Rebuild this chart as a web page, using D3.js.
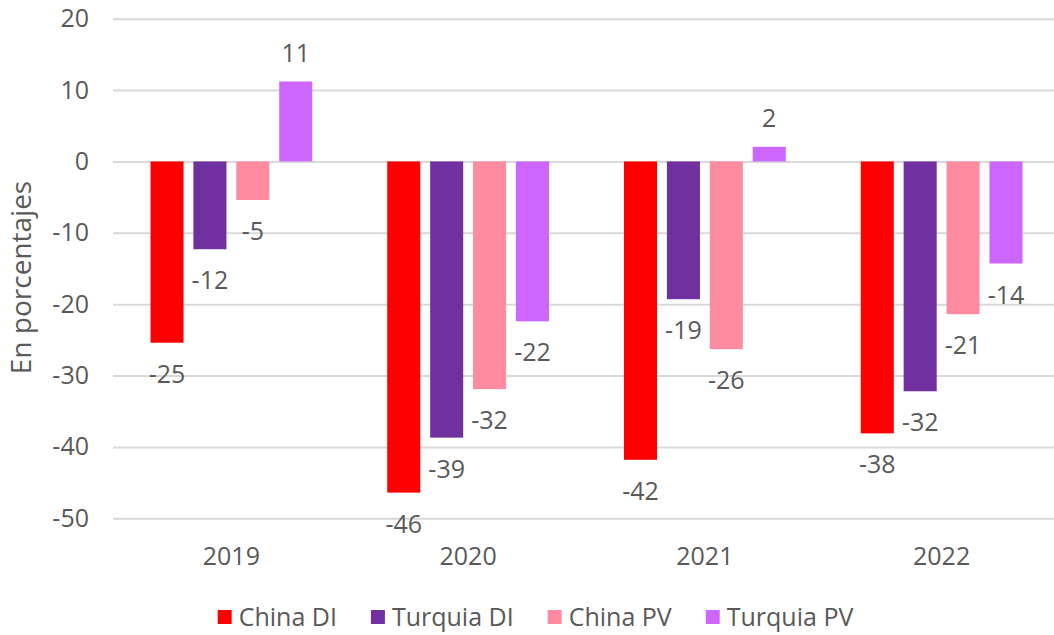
<!DOCTYPE html>
<html>
<head>
<meta charset="utf-8">
<script src="https://cdn.jsdelivr.net/npm/d3@7"></script>
<style>
  body { margin: 0; background: #fff; }
  svg { display: block; font-family: "Open Sans", sans-serif; }
</style>
</head>
<body>
<svg width="1054" height="635"></svg>
<script>
// data
const years = ["2019", "2020", "2021", "2022"];
const seriesNames = ["China DI", "Turquia DI", "China PV", "Turquia PV"];
const chinaDI = [-25.4, -46.4, -41.8, -38.1];
const turquiaDI = [-12.3, -38.7, -19.3, -32.2];
const chinaPV = [-5.4, -31.9, -26.3, -21.4];
const turquiaPV = [11.2, -22.4, 2.05, -14.3];
const yTicks = [20, 10, 0, -10, -20, -30, -40, -50];
const colors = ["#ff0000", "#7030a0", "#ff8ba0", "#cc66ff"];

const allSeries = [chinaDI, turquiaDI, chinaPV, turquiaPV];
let rows = [];
years.forEach(function(yr, i) {
  seriesNames.forEach(function(s, j) {
    rows.push({year: yr, series: s, value: allSeries[j][i]});
  });
});

let svg = d3.select("svg"),
    width = +svg.attr("width"),
    height = +svg.attr("height");
let plotLeft = 113, plotRight = 1060, plotTop = 18.7, plotBottom = 518.3;
let textColor = "#595959";

let y = d3.scaleLinear().domain([-50, 20]).range([plotBottom, plotTop]);
let x0 = d3.scaleBand().domain(years).range([plotLeft, plotRight]);
let x1 = d3.scaleBand().domain(seriesNames)
    .range([37.5, x0.bandwidth() - 37.5])
    .paddingInner(0.23);
let color = d3.scaleOrdinal().domain(seriesNames).range(colors);

// y axis + gridlines
let yAxis = svg.append("g")
    .attr("transform", "translate(" + plotLeft + ",0)")
    .call(d3.axisLeft(y).tickValues(yTicks)
        .tickFormat(function(d) { return String(d); })
        .tickSize(-(width - plotLeft)).tickPadding(24));
yAxis.select(".domain").remove();
yAxis.selectAll("line").attr("stroke", "#d9d9d9").attr("stroke-width", 2);
yAxis.selectAll("text").attr("fill", textColor).attr("font-size", 25)
    .attr("font-family", "Open Sans");

// x axis labels
let xAxis = svg.append("g")
    .attr("transform", "translate(0," + plotBottom + ")")
    .call(d3.axisBottom(x0).tickSize(0).tickPadding(29));
xAxis.select(".domain").remove();
xAxis.selectAll("text").attr("fill", textColor).attr("font-size", 25)
    .attr("font-family", "Open Sans");

// bars
let bars = svg.append("g").selectAll("rect")
    .data(rows)
    .enter()
    .append("rect")
    .attr("x", function(d) { return x0(d.year) + x1(d.series); })
    .attr("width", x1.bandwidth())
    .attr("y", function(d) { return Math.min(y(d.value), y(0)); })
    .attr("height", function(d) { return Math.abs(y(d.value) - y(0)); })
    .attr("fill", function(d) { return color(d.series); });

// value labels
svg.append("g").selectAll("text")
    .data(rows)
    .enter()
    .append("text")
    .attr("x", function(d) { return x0(d.year) + x1(d.series) + x1.bandwidth() / 2; })
    .attr("y", function(d) {
        return d.value < 0 ? y(d.value) + 40 : y(d.value) - 20;
    })
    .attr("text-anchor", "middle")
    .attr("font-size", 25)
    .attr("fill", textColor)
    .text(function(d) { return Math.round(d.value); });

// y title
svg.append("text")
    .attr("transform", "translate(31,277.5) rotate(-90)")
    .attr("text-anchor", "middle")
    .attr("font-size", 28)
    .attr("fill", textColor)
    .text("En porcentajes");

// legend
let legend = svg.append("g");
let lx = 0;
seriesNames.forEach(function(s, i) {
  let item = legend.append("g").attr("transform", "translate(" + lx + ",0)");
  item.append("rect")
      .attr("x", 0).attr("y", 610)
      .attr("width", 14).attr("height", 14)
      .attr("fill", color(s));
  let t = item.append("text")
      .attr("x", 21).attr("y", 626)
      .attr("font-size", 25)
      .attr("fill", textColor)
      .text(s);
  lx += 21 + t.node().getComputedTextLength() + 34;
});
let legendW = lx - 34;
legend.attr("transform", "translate(" + (535.5 - legendW / 2) + ",0)");
</script>
</body>
</html>
